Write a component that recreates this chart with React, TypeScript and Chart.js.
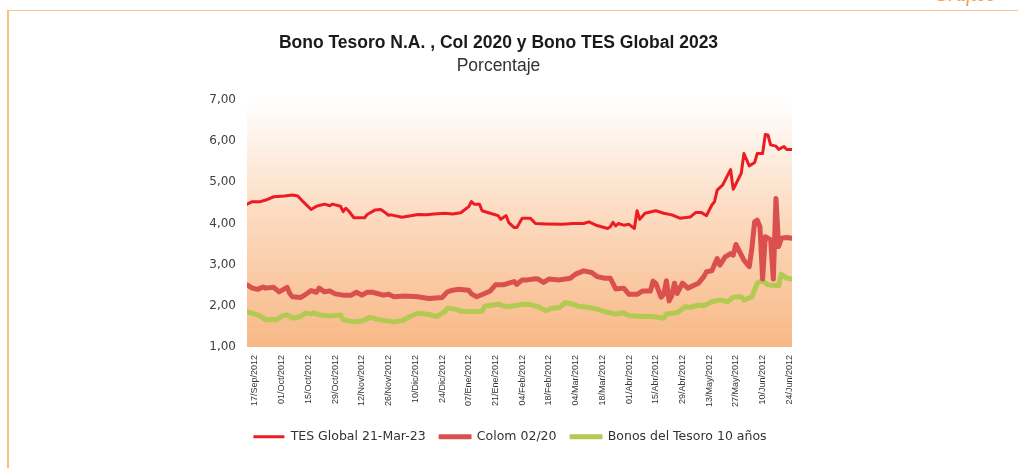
import React, { useEffect, useRef } from "react";
import { Chart, registerables } from "chart.js";

Chart.register(...registerables);

// x axis: business-day index counted from 17/Sep (one tick label every 10 days)
const tickLabels = [
  "17/Sep/2012", "01/Oct/2012", "15/Oct/2012", "29/Oct/2012", "12/Nov/2012",
  "26/Nov/2012", "10/Dic/2012", "24/Dic/2012", "07/Ene/2012", "21/Ene/2012",
  "04/Feb/2012", "18/Feb/2012", "04/Mar/2012", "18/Mar/2012", "01/Abr/2012",
  "15/Abr/2012", "29/Abr/2012", "13/May/2012", "27/May/2012", "10/Jun/2012",
  "24/Jun/2012",
];

const seriesNames = ["TES Global 21-Mar-23", "Colom 02/20", "Bonos del Tesoro 10 años"];

const tesDays = [-3, -1, 2, 4, 7, 11, 14, 16, 18, 21, 23, 26, 28, 29, 32, 33, 34, 35, 37, 41, 42, 45, 47, 48, 50, 51, 55, 61, 64, 67, 71, 74, 77, 80, 81, 82, 84, 85, 88, 91, 92, 93, 94, 95, 97, 98, 100, 103, 105, 109, 115, 119, 123, 125, 128, 132, 133, 134, 135, 136, 138, 140, 142, 143, 144, 146, 150, 153, 156, 159, 163, 165, 167, 169, 171, 172, 173, 175, 178, 179, 182, 183, 185, 187, 188, 190, 191, 192, 193, 195, 196, 198, 199, 201];
const tesValues = [4.47, 4.53, 4.53, 4.57, 4.65, 4.67, 4.69, 4.67, 4.53, 4.34, 4.42, 4.47, 4.43, 4.47, 4.42, 4.29, 4.37, 4.31, 4.14, 4.14, 4.22, 4.33, 4.34, 4.30, 4.20, 4.21, 4.15, 4.22, 4.21, 4.23, 4.25, 4.23, 4.26, 4.41, 4.53, 4.47, 4.47, 4.31, 4.25, 4.19, 4.10, 4.15, 4.19, 4.02, 3.90, 3.90, 4.13, 4.13, 4.00, 3.99, 3.98, 4.00, 4.00, 4.04, 3.95, 3.88, 3.92, 4.03, 3.94, 4.00, 3.96, 3.98, 3.88, 4.31, 4.10, 4.25, 4.31, 4.25, 4.21, 4.13, 4.16, 4.27, 4.27, 4.19, 4.45, 4.53, 4.81, 4.93, 5.31, 4.83, 5.22, 5.70, 5.40, 5.48, 5.70, 5.70, 6.16, 6.15, 5.91, 5.88, 5.80, 5.87, 5.80, 5.80];

const colDays = [-3, -1, 1, 3, 4, 7, 9, 12, 13, 14, 17, 19, 21, 23, 24, 26, 28, 30, 33, 36, 38, 40, 42, 44, 48, 50, 52, 56, 61, 65, 70, 72, 74, 76, 80, 81, 83, 86, 88, 90, 93, 95, 97, 98, 100, 102, 105, 106, 108, 110, 114, 118, 120, 123, 126, 128, 131, 133, 135, 138, 140, 143, 145, 148, 149, 150, 152, 153, 154, 155, 156, 157, 158, 160, 162, 166, 168, 169, 171, 173, 174, 176, 178, 179, 180, 183, 185, 186, 187, 188, 189, 190, 191, 193, 194, 195, 196, 197, 199, 201];
const colValues = [2.51, 2.43, 2.40, 2.46, 2.43, 2.45, 2.34, 2.45, 2.30, 2.22, 2.20, 2.28, 2.37, 2.33, 2.43, 2.34, 2.36, 2.29, 2.26, 2.26, 2.33, 2.26, 2.33, 2.33, 2.26, 2.28, 2.22, 2.24, 2.22, 2.18, 2.20, 2.34, 2.38, 2.40, 2.38, 2.29, 2.22, 2.30, 2.36, 2.51, 2.51, 2.55, 2.59, 2.52, 2.63, 2.63, 2.66, 2.65, 2.57, 2.65, 2.63, 2.67, 2.77, 2.85, 2.81, 2.71, 2.67, 2.67, 2.41, 2.43, 2.28, 2.28, 2.36, 2.36, 2.60, 2.55, 2.21, 2.28, 2.61, 2.12, 2.25, 2.55, 2.30, 2.55, 2.43, 2.55, 2.71, 2.83, 2.85, 3.15, 2.99, 3.19, 3.27, 3.23, 3.49, 3.11, 2.95, 3.40, 4.04, 4.08, 3.92, 2.65, 3.68, 3.60, 2.65, 4.61, 3.44, 3.64, 3.66, 3.64];

const bonDays = [-3, -1, 2, 4, 6, 8, 10, 12, 14, 17, 19, 21, 22, 24, 28, 32, 33, 37, 40, 43, 46, 49, 52, 55, 58, 61, 65, 68, 71, 72, 75, 77, 81, 85, 86, 91, 94, 97, 100, 103, 106, 109, 111, 114, 116, 119, 121, 125, 128, 131, 135, 138, 140, 145, 149, 153, 154, 158, 159, 161, 163, 166, 168, 171, 174, 177, 179, 182, 183, 186, 188, 189, 190, 192, 196, 197, 199, 201];
const bonValues = [1.86, 1.82, 1.75, 1.66, 1.67, 1.66, 1.75, 1.78, 1.70, 1.74, 1.83, 1.80, 1.83, 1.78, 1.75, 1.78, 1.66, 1.61, 1.63, 1.72, 1.67, 1.64, 1.61, 1.64, 1.74, 1.82, 1.79, 1.74, 1.86, 1.94, 1.92, 1.87, 1.86, 1.87, 1.99, 2.04, 1.98, 2.00, 2.04, 2.03, 1.98, 1.88, 1.94, 1.96, 2.08, 2.04, 1.99, 1.96, 1.92, 1.86, 1.80, 1.83, 1.76, 1.74, 1.74, 1.70, 1.80, 1.83, 1.88, 1.98, 1.96, 2.02, 2.00, 2.10, 2.14, 2.10, 2.21, 2.22, 2.14, 2.22, 2.55, 2.59, 2.60, 2.51, 2.49, 2.77, 2.67, 2.65];

const yTicks = [1, 2, 3, 4, 5, 6, 7];

const TES_COLOR = "#ED1C24";
const COL_COLOR = "#D9504F";
const BON_COLOR = "#B2CA52";

const toPoints = (days: number[], vals: number[]) => days.map((d, i) => ({ x: d, y: vals[i] }));

const plotBackground = {
  id: "plotBackground",
  beforeDraw(chart: any) {
    const { ctx, chartArea: a } = chart;
    if (!a) return;
    const g = ctx.createLinearGradient(0, a.top, 0, a.bottom);
    g.addColorStop(0, "#FFFFFF");
    g.addColorStop(0.45, "#FCDCC2");
    g.addColorStop(1, "#F8B886");
    ctx.save();
    ctx.fillStyle = g;
    ctx.fillRect(a.left, a.top, a.right - a.left, a.bottom - a.top);
    ctx.restore();
  },
};

// the legend in the reference is centred a little right of the plot's centre
const shiftLegend = {
  id: "shiftLegend",
  afterLayout(chart: any) {
    if (chart.legend) {
      chart.legend.left += 19;
      chart.legend.right += 19;
    }
  },
};

export default function App() {
  const canvasRef = useRef<HTMLCanvasElement | null>(null);

  useEffect(() => {
    if (!canvasRef.current) return;
    const colors = [TES_COLOR, COL_COLOR, BON_COLOR];
    const chart = new Chart(canvasRef.current, {
      type: "line",
      data: {
        datasets: [
          {
            label: seriesNames[0],
            data: toPoints(tesDays, tesValues),
            borderColor: TES_COLOR,
            backgroundColor: TES_COLOR,
            borderWidth: 3,
          },
          {
            label: seriesNames[1],
            data: toPoints(colDays, colValues),
            borderColor: COL_COLOR,
            backgroundColor: COL_COLOR,
            borderWidth: 5,
          },
          {
            label: seriesNames[2],
            data: toPoints(bonDays, bonValues),
            borderColor: BON_COLOR,
            backgroundColor: BON_COLOR,
            borderWidth: 5,
          },
        ],
      },
      options: {
        animation: false,
        responsive: false,
        maintainAspectRatio: false,
        layout: { padding: { left: 190, right: 226, top: 100, bottom: 15 } },
        elements: {
          point: { radius: 0, hoverRadius: 0 },
          line: { tension: 0, borderJoinStyle: "round", borderCapStyle: "round", fill: false },
        },
        scales: {
          x: {
            type: "linear",
            min: -3,
            max: 201,
            grid: { display: false, drawTicks: false },
            border: { display: false },
            afterBuildTicks: (scale: any) => {
              scale.ticks = tickLabels.map((_, i) => ({ value: i * 10 }));
            },
            afterFit: (scale: any) => {
              scale.height = 69.5;
            },
            ticks: {
              autoSkip: false,
              minRotation: 90,
              maxRotation: 90,
              padding: 8,
              color: "#333333",
              font: { family: "'Liberation Sans', Arial, sans-serif", size: 9 },
              callback: (_v: any, i: number) => tickLabels[i],
            },
          },
          y: {
            type: "linear",
            min: 1,
            max: 7,
            grid: { display: false, drawTicks: false },
            border: { display: false },
            afterBuildTicks: (scale: any) => {
              scale.ticks = yTicks.map((v) => ({ value: v }));
            },
            afterFit: (scale: any) => {
              scale.width = 57;
            },
            ticks: {
              padding: 11,
              color: "#404040",
              font: { family: "'DejaVu Sans', sans-serif", size: 12 },
              callback: (v: any) => Number(v).toFixed(2).replace(".", ","),
            },
          },
        },
        plugins: {
          title: { display: false },
          tooltip: { enabled: false },
          legend: {
            display: true,
            position: "bottom",
            labels: {
              boxWidth: 31,
              boxHeight: 3,
              padding: 14,
              color: "#333333",
              font: { family: "'DejaVu Sans', sans-serif", size: 12.5 },
              generateLabels: (ch: any) =>
                ch.data.datasets.map((ds: any, i: number) => ({
                  text: ds.label,
                  fillStyle: colors[i],
                  strokeStyle: colors[i],
                  lineWidth: i === 0 ? 0 : 2,
                  lineJoin: "round",
                  hidden: false,
                  datasetIndex: i,
                  fontColor: "#333333",
                })),
            },
          },
        },
      },
      plugins: [plotBackground, shiftLegend],
    } as any);
    return () => chart.destroy();
  }, []);

  return (
    <div
      style={{
        position: "fixed",
        left: 0,
        top: 0,
        width: 1018,
        height: 468,
        background: "#FFFFFF",
        overflow: "hidden",
      }}
    >
      <div
        style={{
          position: "absolute",
          right: 22,
          top: -17,
          color: "#F59A45",
          font: "italic 20px 'Liberation Serif', serif",
        }}
      >
        Gráfico
      </div>
      <div
        style={{
          position: "absolute",
          left: 8,
          right: 0,
          top: 10,
          height: 0,
          borderTop: "1.5px solid #F9C393",
        }}
      />
      <div
        style={{
          position: "absolute",
          left: 7,
          top: 10,
          bottom: 0,
          width: 0,
          borderLeft: "2px solid #F9BE88",
        }}
      />
      <canvas
        ref={canvasRef}
        width={1018}
        height={468}
        style={{ position: "absolute", left: 0, top: 0, width: 1018, height: 468 }}
      />
      <div
        style={{
          position: "absolute",
          left: 0,
          width: 997,
          top: 32,
          lineHeight: "22px",
          textAlign: "center",
          font: "bold 17.5px 'Liberation Sans', Arial, sans-serif",
          color: "#1A1A1A",
        }}
      >
        Bono Tesoro N.A. , Col 2020 y Bono TES Global 2023
      </div>
      <div
        style={{
          position: "absolute",
          left: 0,
          width: 997,
          top: 55,
          lineHeight: "22px",
          textAlign: "center",
          font: "17.5px 'Liberation Sans', Arial, sans-serif",
          color: "#333333",
        }}
      >
        Porcentaje
      </div>
    </div>
  );
}
